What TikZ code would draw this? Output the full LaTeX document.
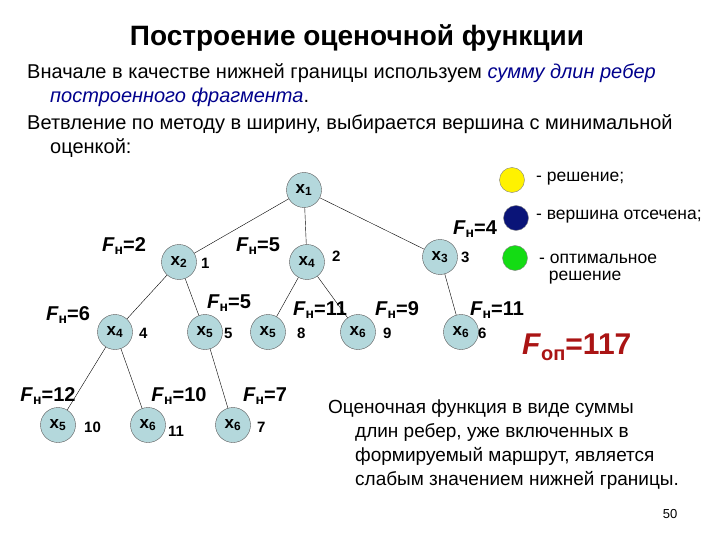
\documentclass[tikz,border=0pt]{standalone}
\usepackage{fontspec}
\setmainfont{Liberation Sans}
\begin{document}
\begin{tikzpicture}[x=1pt,y=-1pt,
 vert/.style={circle,draw=gray!70!black,fill={rgb,255:red,180;green,216;blue,220},minimum size=35pt,inner sep=0pt,font=\bfseries\fontsize{17}{17}\selectfont},
 num/.style={font=\bfseries\fontsize{15}{15}\selectfont,anchor=west,inner sep=0pt},
 fn/.style={font=\bfseries\fontsize{20}{20}\selectfont,inner sep=0pt},
 txt/.style={font=\fontsize{20}{20}\selectfont,anchor=west,inner sep=0pt},
 btxt/.style={font=\fontsize{19}{19}\selectfont,anchor=west,inner sep=0pt},
 ltxt/.style={font=\fontsize{17.5}{17.5}\selectfont,anchor=west,inner sep=0pt},
 leg/.style={circle,draw=gray,minimum size=25pt,inner sep=0pt}]
\useasboundingbox (0,0) rectangle (720,540);
\newcommand{\Fn}{\textit{F}\raisebox{-0.35ex}{\fontsize{14}{14}\selectfont н}=}
\node[font=\bfseries\fontsize{28}{28}\selectfont] (title) at (357,38) {Построение оценочной функции};
\node[txt] (l1) at (27,73) {Вначале в качестве нижней границы используем \textcolor{blue!55!black}{\itshape сумму длин ребер}};
\node[txt] (l2) at (50,97) {\textcolor{blue!55!black}{\itshape построенного фрагмента}.};
\node[txt] (l3) at (27,124) {Ветвление по методу в ширину, выбирается вершина с минимальной};
\node[txt] (l4) at (50,148) {оценкой:};
\node[vert] (a) at (304,190) {x$_{\mathbf 1}$};
\node[vert] (b) at (179,262) {x$_{\mathbf 2}$};
\node[vert] (c) at (307,262) {x$_{\mathbf 4}$};
\node[vert] (d) at (440,257) {x$_{\mathbf 3}$};
\node[vert] (e) at (115,332) {x$_{\mathbf 4}$};
\node[vert] (f) at (205,332) {x$_{\mathbf 5}$};
\node[vert] (g) at (268,332) {x$_{\mathbf 5}$};
\node[vert] (h) at (358,332) {x$_{\mathbf 6}$};
\node[vert] (i) at (461,332) {x$_{\mathbf 6}$};
\node[vert] (j) at (58,425) {x$_{\mathbf 5}$};
\node[vert] (k) at (148,425) {x$_{\mathbf 6}$};
\node[vert] (l) at (233,425) {x$_{\mathbf 6}$};
\draw (a)--(b); \draw (a)--(c); \draw (a)--(d);
\draw (b)--(e); \draw (b)--(f); \draw (c)--(g); \draw (c)--(h); \draw (d)--(i);
\draw (e)--(j); \draw (e)--(k); \draw (f)--(l);
\node[num] (n1) at (201,263) {1};
\node[num] (n2) at (332,256) {2};
\node[num] (n3) at (461,257) {3};
\node[num] (n4) at (139,333) {4};
\node[num] (n5) at (224,333) {5};
\node[num] (n8) at (297,333) {8};
\node[num] (n9) at (383,333) {9};
\node[num] (n6) at (478,333) {6};
\node[num] (n10) at (84,427) {10};
\node[num] (n11) at (168,431) {11};
\node[num] (n7) at (257,427) {7};
\node[fn] (f1) at (124,246) {\Fn2};
\node[fn] (f2) at (258,246) {\Fn5};
\node[fn] (f3) at (475,229) {\Fn4};
\node[fn] (f4) at (68,315) {\Fn6};
\node[fn] (f5) at (229,303) {\Fn5};
\node[fn] (f6) at (320,310) {\Fn11};
\node[fn] (f7) at (397,310) {\Fn9};
\node[fn] (f8) at (497,310) {\Fn11};
\node[fn] (f9) at (48,396) {\Fn12};
\node[fn] (f10) at (179,396) {\Fn10};
\node[fn] (f11) at (265,396) {\Fn7};
\node[leg,fill=yellow] (y) at (512,180) {};
\node[leg,fill={rgb,255:red,10;green,20;blue,120}] (nv) at (516,218) {};
\node[leg,fill={rgb,255:red,20;green,220;blue,20}] (gr) at (515,258) {};
\node[ltxt] (ty) at (536,179) {- решение;};
\node[ltxt] (tn) at (536,217) {- вершина отсечена;};
\node[ltxt,align=left] (tg) at (539,269) {- оптимальное\\\ \ решение};
\node[font=\bfseries\fontsize{30}{30}\selectfont,text={rgb,255:red,170;green,20;blue,20},anchor=west,inner sep=0pt] (fop) at (522,347) {\textit{F}\raisebox{-0.4ex}{\fontsize{20}{20}\selectfont оп}=117};
\node[btxt] (b1) at (328,409) {Оценочная функция в виде суммы};
\node[btxt] (b2) at (355,433) {длин ребер, уже включенных в};
\node[btxt] (b3) at (355,456) {формируемый маршрут, является};
\node[btxt] (b4) at (355,480) {слабым значением нижней границы.};
\node[font=\fontsize{13}{13}\selectfont] (pg) at (670,514) {50};
\end{tikzpicture}
\end{document}
